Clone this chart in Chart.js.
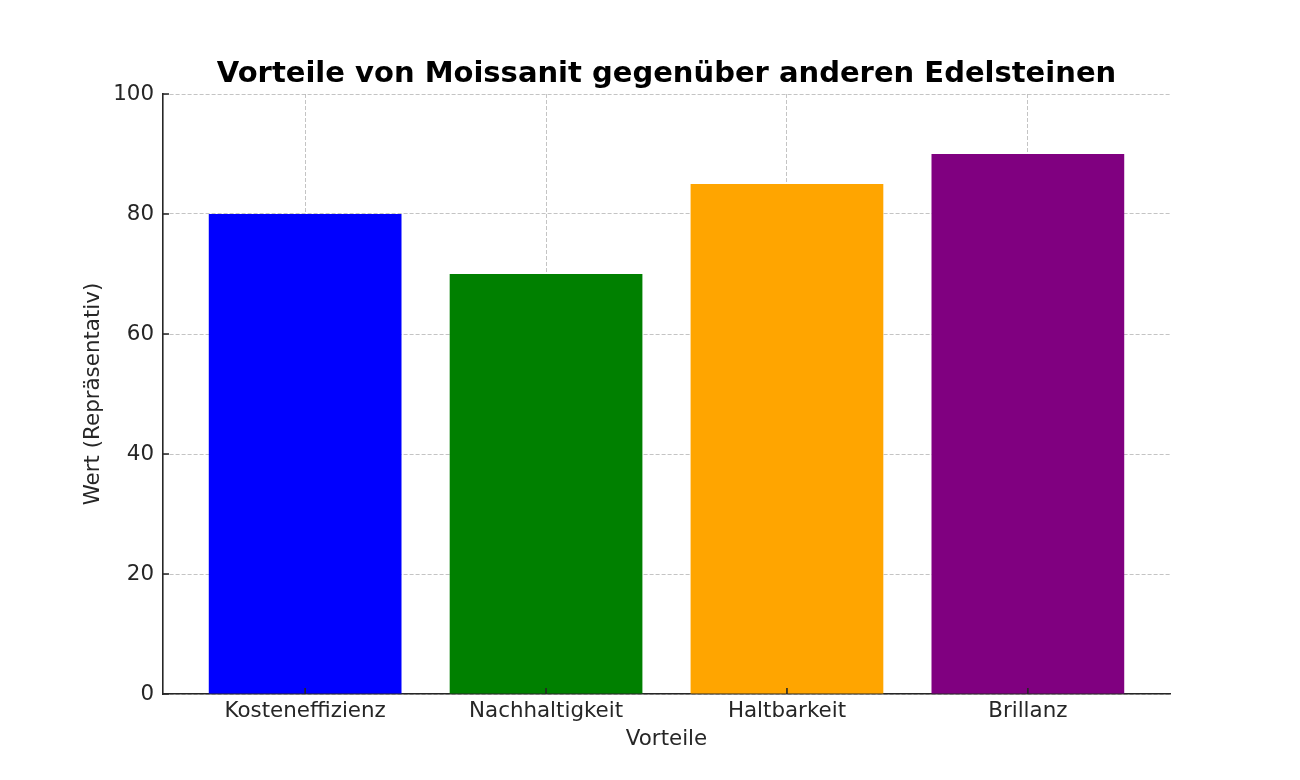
<!DOCTYPE html>
<html>
<head>
<meta charset="utf-8">
<title>Vorteile von Moissanit</title>
<script src="https://cdn.jsdelivr.net/npm/chart.js@4.4.1/dist/chart.umd.min.js"></script>
<style>
  html, body { margin: 0; padding: 0; background: #fff; }
  #wrap { width: 1300px; height: 780px; }
</style>
</head>
<body>
<div id="wrap"><canvas id="chart" width="1300" height="780"></canvas></div>
<script>
// Data
const categories = ['Kosteneffizienz', 'Nachhaltigkeit', 'Haltbarkeit', 'Brillanz'];
const values = [80, 70, 85, 90];
const barColors = ['#0000ff', '#008000', '#ffa500', '#800080'];
const yTicks = [0, 20, 40, 60, 80, 100];
const chartTitle = 'Vorteile von Moissanit gegenüber anderen Edelsteinen';

const FONT = "'DejaVu Sans', sans-serif";
const TEXT = '#262626';
const AXIS = '#262626';
const GRID = 'rgba(176, 176, 176, 0.75)';

// title centred over the plot area, like matplotlib does it
const titlePlugin = {
  id: 'plotTitle',
  afterDraw(chart) {
    const { ctx, chartArea } = chart;
    ctx.save();
    ctx.font = `bold 29px ${FONT}`;
    ctx.fillStyle = '#000';
    ctx.textAlign = 'center';
    ctx.textBaseline = 'middle';
    ctx.fillText(chartTitle, (chartArea.left + chartArea.right) / 2, 74);
    ctx.restore();
  }
};

// short tick marks pointing into the plot
const innerTicks = {
  id: 'innerTicks',
  afterDraw(chart) {
    const { ctx, chartArea, scales } = chart;
    const len = 6;
    ctx.save();
    ctx.strokeStyle = AXIS;
    ctx.lineWidth = 1.6;
    ctx.beginPath();
    scales.x.ticks.forEach(t => {
      const px = scales.x.getPixelForValue(t.value);
      ctx.moveTo(px, chartArea.bottom);
      ctx.lineTo(px, chartArea.bottom - len);
    });
    scales.y.ticks.forEach(t => {
      const py = scales.y.getPixelForValue(t.value);
      ctx.moveTo(chartArea.left, py);
      ctx.lineTo(chartArea.left + len, py);
    });
    ctx.stroke();
    ctx.restore();
  }
};

const ctx = document.getElementById('chart').getContext('2d');

new Chart(ctx, {
  type: 'bar',
  data: {
    datasets: [{
      data: values.map((v, i) => ({ x: i, y: v })),
      backgroundColor: barColors,
      borderWidth: 0,
      barPercentage: 0.8,
      categoryPercentage: 1.0
    }]
  },
  options: {
    responsive: false,
    animation: false,
    layout: { padding: { left: 0, right: 130, top: 94, bottom: 0 } },
    plugins: {
      legend: { display: false },
      tooltip: { enabled: false },
      title: { display: false }
    },
    scales: {
      x: {
        type: 'linear',
        min: -0.59,
        max: 3.59,
        offset: false,
        z: 1,
        afterBuildTicks: s => { s.ticks = categories.map((c, i) => ({ value: i })); },
        afterFit: s => { s.height = 86; },
        ticks: {
          callback: v => categories[v],
          color: TEXT,
          font: { family: FONT, size: 21.4 },
          padding: 5,
          maxRotation: 0,
          autoSkip: false
        },
        grid: { offset: false, color: GRID, lineWidth: 1, drawTicks: false },
        border: { color: AXIS, width: 1.6, dash: [4, 2] },
        title: {
          display: true,
          text: 'Vorteile',
          color: TEXT,
          font: { family: FONT, size: 21.4 },
          padding: { top: 0, bottom: 28 }
        }
      },
      y: {
        min: 0,
        max: 100,
        z: 1,
        afterBuildTicks: s => { s.ticks = yTicks.map(v => ({ value: v })); },
        afterFit: s => { s.width = 163; },
        ticks: {
          color: TEXT,
          font: { family: FONT, size: 21.4 },
          padding: 9
        },
        grid: { color: GRID, lineWidth: 1, drawTicks: false },
        border: { color: AXIS, width: 1.6, dash: [4, 2] },
        title: {
          display: true,
          text: 'Wert (Repräsentativ)',
          color: TEXT,
          font: { family: FONT, size: 21.4 },
          padding: { top: 81, bottom: 0 }
        }
      }
    }
  },
  plugins: [titlePlugin, innerTicks]
});
</script>
</body>
</html>
